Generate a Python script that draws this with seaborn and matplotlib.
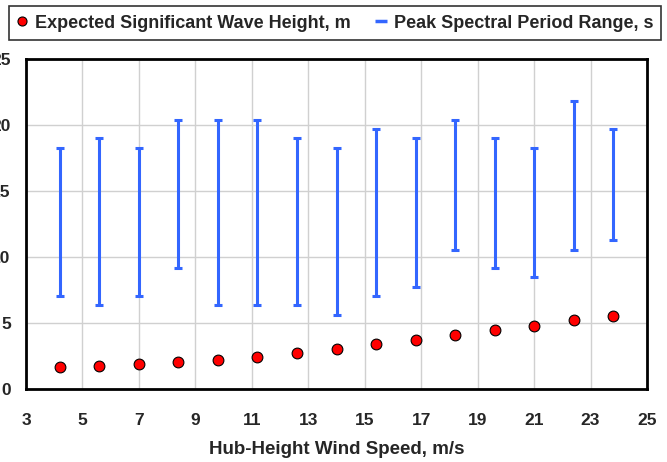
import seaborn as sns
import matplotlib.pyplot as plt
from matplotlib.lines import Line2D
import pandas as pd

# hub-height wind speed bins, m/s
wind_speed = [4.2, 5.6, 7.0, 8.4, 9.8, 11.2, 12.6, 14.0, 15.4, 16.8, 18.2, 19.6, 21.0, 22.4, 23.8]
# expected significant wave height, m
wave_height = [1.64, 1.77, 1.87, 2.05, 2.22, 2.42, 2.75, 3.03, 3.43, 3.69, 4.09, 4.44, 4.75, 5.20, 5.55]
# peak spectral period range, s
period_low = [7.05, 6.34, 7.05, 9.14, 6.34, 6.34, 6.34, 5.63, 7.05, 7.75, 10.55, 9.14, 8.46, 10.55, 11.27]
period_high = [18.27, 19.0, 18.27, 20.4, 20.4, 20.4, 19.0, 18.27, 19.7, 19.0, 20.4, 19.0, 18.27, 21.8, 19.7]

x_ticks = list(range(3, 26, 2))
y_ticks = [0, 5, 10, 15, 20, 25]

blue = '#3366FF'
red = '#FF0000'

df = pd.DataFrame({'speed': wind_speed, 'hs': wave_height,
                   'lo': period_low, 'hi': period_high})

sns.set_style('whitegrid')
plt.rcParams['font.family'] = ['Liberation Sans', 'DejaVu Sans']
plt.rcParams['font.weight'] = 'bold'

fig = plt.figure(figsize=(6.67, 4.62), dpi=100)
ax = fig.add_axes([26 / 667, 1 - 389 / 462, 621 / 667, 330 / 462])

mid = (df['lo'] + df['hi']) / 2
half = (df['hi'] - df['lo']) / 2
ax.errorbar(df['speed'], mid, yerr=half, fmt='none', ecolor=blue,
            elinewidth=2.2, capsize=3, capthick=2.2, zorder=3)
sns.scatterplot(data=df, x='speed', y='hs', color=red, edgecolor='black',
                linewidth=0.8, s=60, ax=ax, zorder=4)

ax.set_xlim(3, 25)
ax.set_ylim(0, 25)
ax.set_xticks(x_ticks)
ax.set_yticks(y_ticks)
ax.grid(True, color='#D0D0D0', linewidth=1)
for s in ax.spines.values():
    s.set_color('black')
    s.set_linewidth(2)
ax.tick_params(axis='both', length=0, labelsize=12.5)
ax.tick_params(axis='x', pad=17)
ax.tick_params(axis='y', pad=11)
for lab in ax.get_xticklabels() + ax.get_yticklabels():
    lab.set_fontweight('bold')
ax.set_xlabel('Hub-Height Wind Speed, m/s', fontsize=13.5, fontweight='bold', labelpad=10)
ax.set_ylabel('')

handles = [
    Line2D([], [], marker='o', color=red, markeredgecolor='black', markeredgewidth=0.8,
           linestyle='none', markersize=6.5),
    Line2D([], [], marker='_', color=blue, linestyle='none', markersize=9, markeredgewidth=2.5),
]
labels = ['Expected Significant Wave Height, m', 'Peak Spectral Period Range, s']
leg = fig.legend(handles, labels, loc='center', bbox_to_anchor=(335 / 667, 1 - 23 / 462),
                 ncol=2, frameon=True, fancybox=False, edgecolor='black',
                 prop={'weight': 'bold', 'size': 13}, handlelength=0.6,
                 handletextpad=0.4, columnspacing=1.4, borderpad=0.45,
                 borderaxespad=0)
leg.get_frame().set_linewidth(1.2)

fig.savefig('out.png', dpi=100)
